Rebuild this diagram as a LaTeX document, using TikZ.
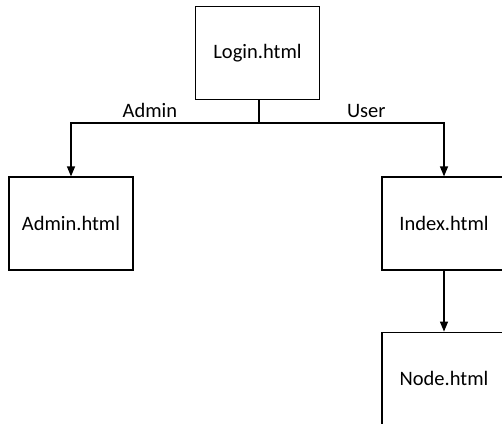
\documentclass[tikz,border=0pt]{standalone}
\usepackage{fontspec}
\setmainfont{Carlito}
\usetikzlibrary{arrows.meta, positioning}
\tikzset{page/.style={draw, line width=1.2pt, minimum width=124pt, minimum height=93pt, inner sep=0pt}}

\begin{document}
\begin{tikzpicture}[x=1pt, y=-1pt, >={Triangle[length=10pt, width=8pt]}, line width=1.2pt, font=\fontsize{20.5}{24}\selectfont]
\useasboundingbox (0,0) rectangle (502,423);
\clip (0,0) rectangle (502,423);
\node[page] (login) at (257.5,53) {Login.html};
\node[page] (admin) at (71,223.5) {Admin.html};
\node[page] (index) at (444,223.5) {Index.html};
\node[page, below=61pt of index] (node) {Node.html};
\coordinate (split) at (259,123);
\draw (login.south -| split) -- (split);
\draw [->] (split) -| node[pos=0.29, above=1pt] {Admin} (admin.north);
\draw [->] (split) -| node[pos=0.29, above=1pt] {User} (index.north);
\draw [->] (index) -- (node);
\end{tikzpicture}
\end{document}
